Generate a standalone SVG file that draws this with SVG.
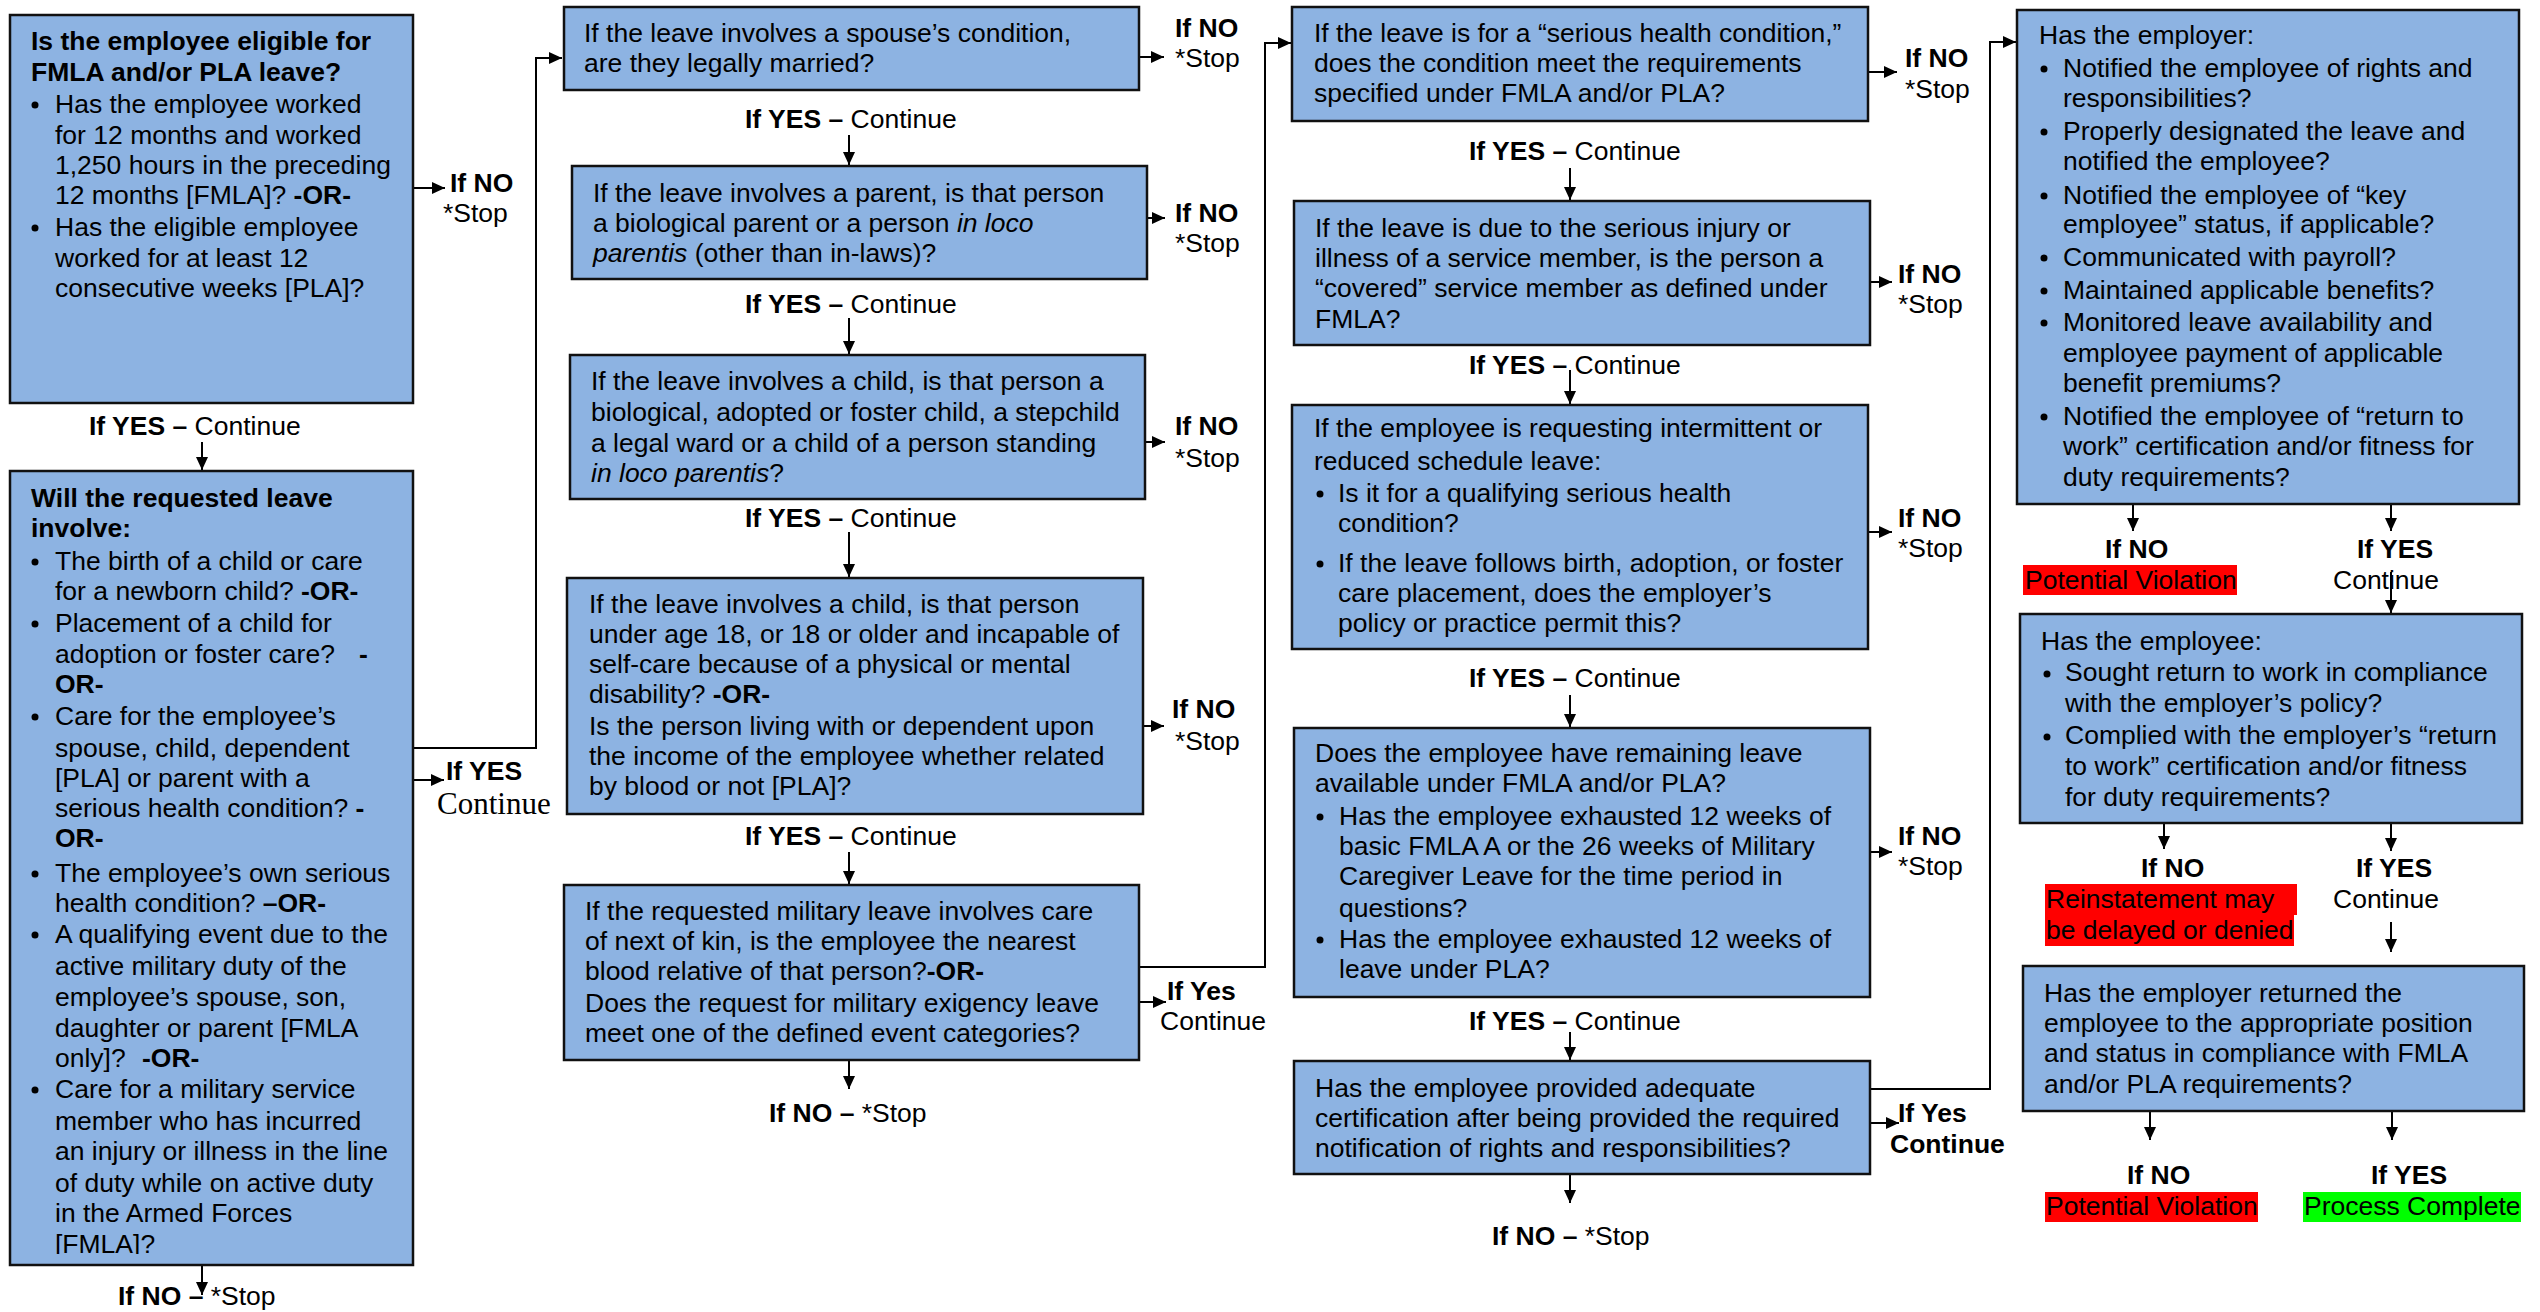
<svg xmlns="http://www.w3.org/2000/svg" width="2540" height="1312" viewBox="0 0 2540 1312">
<style>
.bg{fill:#ffffff}
.box{fill:#8DB3E2;stroke:#111111;stroke-width:2.5}
text{font-family:"Liberation Sans",Arial,sans-serif;font-size:26.5px;fill:#000000}
.b{font-weight:bold}
.i{font-style:italic}
.serif{font-family:"Liberation Serif","Times New Roman",serif;font-size:31px}
.conn{fill:none;stroke:#000000;stroke-width:2}
.dot{fill:#000000}
.red{fill:#FF0000}
.green{fill:#00FF00}
</style>
<defs>
<marker id="ah" markerWidth="13" markerHeight="12" refX="13" refY="6" orient="auto" markerUnits="userSpaceOnUse">
<path d="M0,0 L13,6 L0,12 z" fill="#000000"/>
</marker>
<clipPath id="clip2"><rect x="10" y="471" width="403" height="783"/></clipPath>
</defs>
<rect class="bg" x="0" y="0" width="2540" height="1312"/>

<g id="connectors">
<line class="conn" x1="414" y1="188" x2="445" y2="188" marker-end="url(#ah)"/>
<line class="conn" x1="202" y1="442" x2="202" y2="470" marker-end="url(#ah)"/>
<path class="conn" d="M413,748 H536 V58 H562" marker-end="url(#ah)"/>
<line class="conn" x1="414" y1="780" x2="444" y2="780" marker-end="url(#ah)"/>
<line class="conn" x1="202" y1="1265" x2="202" y2="1295" marker-end="url(#ah)"/>

<line class="conn" x1="1139" y1="57" x2="1164" y2="57" marker-end="url(#ah)"/>
<line class="conn" x1="849" y1="135" x2="849" y2="165" marker-end="url(#ah)"/>
<line class="conn" x1="1147" y1="218" x2="1165" y2="218" marker-end="url(#ah)"/>
<line class="conn" x1="849" y1="318" x2="849" y2="354" marker-end="url(#ah)"/>
<line class="conn" x1="1145" y1="442" x2="1165" y2="442" marker-end="url(#ah)"/>
<line class="conn" x1="849" y1="532" x2="849" y2="577" marker-end="url(#ah)"/>
<line class="conn" x1="1143" y1="726" x2="1164" y2="726" marker-end="url(#ah)"/>
<line class="conn" x1="849" y1="852" x2="849" y2="884" marker-end="url(#ah)"/>
<path class="conn" d="M1139,967 H1265 V43 H1291" marker-end="url(#ah)"/>
<line class="conn" x1="1139" y1="1002" x2="1166" y2="1002" marker-end="url(#ah)"/>
<line class="conn" x1="849" y1="1060" x2="849" y2="1089" marker-end="url(#ah)"/>

<line class="conn" x1="1868" y1="72" x2="1897" y2="72" marker-end="url(#ah)"/>
<line class="conn" x1="1570" y1="168" x2="1570" y2="200" marker-end="url(#ah)"/>
<line class="conn" x1="1870" y1="282" x2="1892" y2="282" marker-end="url(#ah)"/>
<line class="conn" x1="1570" y1="370" x2="1570" y2="404" marker-end="url(#ah)"/>
<line class="conn" x1="1868" y1="532" x2="1892" y2="532" marker-end="url(#ah)"/>
<line class="conn" x1="1570" y1="695" x2="1570" y2="727" marker-end="url(#ah)"/>
<line class="conn" x1="1870" y1="852" x2="1892" y2="852" marker-end="url(#ah)"/>
<line class="conn" x1="1570" y1="1032" x2="1570" y2="1060" marker-end="url(#ah)"/>
<path class="conn" d="M1870,1089 H1990 V42 H2016" marker-end="url(#ah)"/>
<line class="conn" x1="1870" y1="1123" x2="1899" y2="1123" marker-end="url(#ah)"/>
<line class="conn" x1="1570" y1="1174" x2="1570" y2="1203" marker-end="url(#ah)"/>

<line class="conn" x1="2133" y1="504" x2="2133" y2="531" marker-end="url(#ah)"/>
<line class="conn" x1="2391" y1="504" x2="2391" y2="531" marker-end="url(#ah)"/>
<line class="conn" x1="2391" y1="572" x2="2391" y2="613" marker-end="url(#ah)"/>
<line class="conn" x1="2164" y1="823" x2="2164" y2="849" marker-end="url(#ah)"/>
<line class="conn" x1="2391" y1="823" x2="2391" y2="851" marker-end="url(#ah)"/>
<line class="conn" x1="2391" y1="922" x2="2391" y2="952" marker-end="url(#ah)"/>
<line class="conn" x1="2150" y1="1111" x2="2150" y2="1140" marker-end="url(#ah)"/>
<line class="conn" x1="2392" y1="1111" x2="2392" y2="1140" marker-end="url(#ah)"/>
</g>

<g id="n1">
<rect class="box" x="10" y="15" width="403" height="388"/>
<text class="b" x="31" y="50">Is the employee eligible for</text>
<text class="b" x="31" y="81">FMLA and/or PLA leave?</text>
<circle class="dot" cx="35" cy="105" r="3.5"/>
<text x="55" y="113">Has the employee worked</text>
<text x="55" y="144">for 12 months and worked</text>
<text x="55" y="174">1,250 hours in the preceding</text>
<text x="55" y="204">12 months [FMLA]? <tspan class="b">-OR-</tspan></text>
<circle class="dot" cx="35" cy="228" r="3.5"/>
<text x="55" y="236">Has the eligible employee</text>
<text x="55" y="267">worked for at least 12</text>
<text x="55" y="297">consecutive weeks [PLA]?</text>
</g>

<g id="n2">
<rect class="box" x="10" y="471" width="403" height="794"/>
<g clip-path="url(#clip2)">
<text class="b" x="31" y="507">Will the requested leave</text>
<text class="b" x="31" y="537">involve:</text>
<circle class="dot" cx="35" cy="562" r="3.5"/>
<text x="55" y="570">The birth of a child or care</text>
<text x="55" y="600">for a newborn child? <tspan class="b">-OR-</tspan></text>
<circle class="dot" cx="35" cy="624" r="3.5"/>
<text x="55" y="632">Placement of a child for</text>
<text x="55" y="663">adoption or foster care?<tspan class="b" x="359">-</tspan></text>
<text class="b" x="55" y="693">OR-</text>
<circle class="dot" cx="35" cy="717" r="3.5"/>
<text x="55" y="725">Care for the employee’s</text>
<text x="55" y="757">spouse, child, dependent</text>
<text x="55" y="787">[PLA] or parent with a</text>
<text x="55" y="817">serious health condition? <tspan class="b">-</tspan></text>
<text class="b" x="55" y="847">OR-</text>
<circle class="dot" cx="35" cy="874" r="3.5"/>
<text x="55" y="882">The employee’s own serious</text>
<text x="55" y="912">health condition? <tspan class="b">–OR-</tspan></text>
<circle class="dot" cx="35" cy="935" r="3.5"/>
<text x="55" y="943">A qualifying event due to the</text>
<text x="55" y="975">active military duty of the</text>
<text x="55" y="1006">employee’s spouse, son,</text>
<text x="55" y="1037">daughter or parent [FMLA</text>
<text x="55" y="1067">only]?  <tspan class="b" x="142">-OR-</tspan></text>
<circle class="dot" cx="35" cy="1090" r="3.5"/>
<text x="55" y="1098">Care for a military service</text>
<text x="55" y="1130">member who has incurred</text>
<text x="55" y="1160">an injury or illness in the line</text>
<text x="55" y="1192">of duty while on active duty</text>
<text x="55" y="1222">in the Armed Forces</text>
<text x="55" y="1253">[FMLA]?</text>
</g>
</g>

<g id="n3">
<rect class="box" x="564" y="7" width="575" height="83"/>
<text x="584" y="42">If the leave involves a spouse’s condition,</text>
<text x="584" y="72">are they legally married?</text>
</g>

<g id="n4">
<rect class="box" x="572" y="166" width="575" height="113"/>
<text x="593" y="202">If the leave involves a parent, is that person</text>
<text x="593" y="232">a biological parent or a person <tspan class="i">in loco</tspan></text>
<text x="593" y="262"><tspan class="i">parentis</tspan> (other than in-laws)?</text>
</g>

<g id="n5">
<rect class="box" x="570" y="355" width="575" height="144"/>
<text x="591" y="390">If the leave involves a child, is that person a</text>
<text x="591" y="421">biological, adopted or foster child, a stepchild</text>
<text x="591" y="452">a legal ward or a child of a person standing</text>
<text x="591" y="482"><tspan class="i">in loco parentis</tspan>?</text>
</g>

<g id="n6">
<rect class="box" x="567" y="578" width="576" height="236"/>
<text x="589" y="613">If the leave involves a child, is that person</text>
<text x="589" y="643">under age 18, or 18 or older and incapable of</text>
<text x="589" y="673">self-care because of a physical or mental</text>
<text x="589" y="703">disability? <tspan class="b">-OR-</tspan></text>
<text x="589" y="735">Is the person living with or dependent upon</text>
<text x="589" y="765">the income of the employee whether related</text>
<text x="589" y="795">by blood or not [PLA]?</text>
</g>

<g id="n7">
<rect class="box" x="564" y="885" width="575" height="175"/>
<text x="585" y="920">If the requested military leave involves care</text>
<text x="585" y="950">of next of kin, is the employee the nearest</text>
<text x="585" y="980">blood relative of that person?<tspan class="b">-OR-</tspan></text>
<text x="585" y="1012">Does the request for military exigency leave</text>
<text x="585" y="1042">meet one of the defined event categories?</text>
</g>

<g id="n8">
<rect class="box" x="1292" y="7" width="576" height="114"/>
<text x="1314" y="42">If the leave is for a “serious health condition,”</text>
<text x="1314" y="72">does the condition meet the requirements</text>
<text x="1314" y="102">specified under FMLA and/or PLA?</text>
</g>

<g id="n9">
<rect class="box" x="1294" y="201" width="576" height="144"/>
<text x="1315" y="237">If the leave is due to the serious injury or</text>
<text x="1315" y="267">illness of a service member, is the person a</text>
<text x="1315" y="297">“covered” service member as defined under</text>
<text x="1315" y="328">FMLA?</text>
</g>

<g id="n10">
<rect class="box" x="1292" y="405" width="576" height="244"/>
<text x="1314" y="437">If the employee is requesting intermittent or</text>
<text x="1314" y="470">reduced schedule leave:</text>
<circle class="dot" cx="1320" cy="494" r="3.5"/>
<text x="1338" y="502">Is it for a qualifying serious health</text>
<text x="1338" y="532">condition?</text>
<circle class="dot" cx="1320" cy="564" r="3.5"/>
<text x="1338" y="572">If the leave follows birth, adoption, or foster</text>
<text x="1338" y="602">care placement, does the employer’s</text>
<text x="1338" y="632">policy or practice permit this?</text>
</g>

<g id="n11">
<rect class="box" x="1294" y="728" width="576" height="269"/>
<text x="1315" y="762">Does the employee have remaining leave</text>
<text x="1315" y="792">available under FMLA and/or PLA?</text>
<circle class="dot" cx="1320" cy="817" r="3.5"/>
<text x="1339" y="825">Has the employee exhausted 12 weeks of</text>
<text x="1339" y="855">basic FMLA A or the 26 weeks of Military</text>
<text x="1339" y="885">Caregiver Leave for the time period in</text>
<text x="1339" y="917">questions?</text>
<circle class="dot" cx="1320" cy="940" r="3.5"/>
<text x="1339" y="948">Has the employee exhausted 12 weeks of</text>
<text x="1339" y="978">leave under PLA?</text>
</g>

<g id="n12">
<rect class="box" x="1294" y="1061" width="576" height="113"/>
<text x="1315" y="1097">Has the employee provided adequate</text>
<text x="1315" y="1127">certification after being provided the required</text>
<text x="1315" y="1157">notification of rights and responsibilities?</text>
</g>

<g id="n13">
<rect class="box" x="2017" y="10" width="502" height="494"/>
<text x="2039" y="44">Has the employer:</text>
<circle class="dot" cx="2044" cy="69" r="3.5"/>
<text x="2063" y="77">Notified the employee of rights and</text>
<text x="2063" y="107">responsibilities?</text>
<circle class="dot" cx="2044" cy="132" r="3.5"/>
<text x="2063" y="140">Properly designated the leave and</text>
<text x="2063" y="170">notified the employee?</text>
<circle class="dot" cx="2044" cy="196" r="3.5"/>
<text x="2063" y="204">Notified the employee of “key</text>
<text x="2063" y="233">employee” status, if applicable?</text>
<circle class="dot" cx="2044" cy="258" r="3.5"/>
<text x="2063" y="266">Communicated with payroll?</text>
<circle class="dot" cx="2044" cy="291" r="3.5"/>
<text x="2063" y="299">Maintained applicable benefits?</text>
<circle class="dot" cx="2044" cy="323" r="3.5"/>
<text x="2063" y="331">Monitored leave availability and</text>
<text x="2063" y="362">employee payment of applicable</text>
<text x="2063" y="392">benefit premiums?</text>
<circle class="dot" cx="2044" cy="417" r="3.5"/>
<text x="2063" y="425">Notified the employee of “return to</text>
<text x="2063" y="455">work” certification and/or fitness for</text>
<text x="2063" y="486">duty requirements?</text>
</g>

<g id="n14">
<rect class="box" x="2020" y="614" width="502" height="209"/>
<text x="2041" y="650">Has the employee:</text>
<circle class="dot" cx="2047" cy="674" r="3.5"/>
<text x="2065" y="681">Sought return to work in compliance</text>
<text x="2065" y="712">with the employer’s policy?</text>
<circle class="dot" cx="2047" cy="737" r="3.5"/>
<text x="2065" y="744">Complied with the employer’s “return</text>
<text x="2065" y="775">to work” certification and/or fitness</text>
<text x="2065" y="806">for duty requirements?</text>
</g>

<g id="n15">
<rect class="box" x="2023" y="966" width="501" height="145"/>
<text x="2044" y="1002">Has the employer returned the</text>
<text x="2044" y="1032">employee to the appropriate position</text>
<text x="2044" y="1062">and status in compliance with FMLA</text>
<text x="2044" y="1093">and/or PLA requirements?</text>
</g>

<g id="labels">
<text class="b" x="450" y="192">If NO</text>
<text x="443" y="222">*Stop</text>
<text x="89" y="435"><tspan class="b">If YES –</tspan> Continue</text>
<text class="b" x="446" y="780">If YES</text>
<text class="serif" x="437" y="814">Continue</text>
<text x="118" y="1305"><tspan class="b">If NO –</tspan> *Stop</text>

<text class="b" x="1175" y="37">If NO</text>
<text x="1175" y="67">*Stop</text>
<text x="745" y="128"><tspan class="b">If YES –</tspan> Continue</text>
<text class="b" x="1175" y="222">If NO</text>
<text x="1175" y="252">*Stop</text>
<text x="745" y="313"><tspan class="b">If YES –</tspan> Continue</text>
<text class="b" x="1175" y="435">If NO</text>
<text x="1175" y="467">*Stop</text>
<text x="745" y="527"><tspan class="b">If YES –</tspan> Continue</text>
<text class="b" x="1172" y="718">If NO</text>
<text x="1175" y="750">*Stop</text>
<text x="745" y="845"><tspan class="b">If YES –</tspan> Continue</text>
<text class="b" x="1167" y="1000">If Yes</text>
<text x="1160" y="1030">Continue</text>
<text x="769" y="1122"><tspan class="b">If NO –</tspan> *Stop</text>

<text class="b" x="1905" y="67">If NO</text>
<text x="1905" y="98">*Stop</text>
<text x="1469" y="160"><tspan class="b">If YES –</tspan> Continue</text>
<text class="b" x="1898" y="283">If NO</text>
<text x="1898" y="313">*Stop</text>
<text x="1469" y="374"><tspan class="b">If YES –</tspan> Continue</text>
<text class="b" x="1898" y="527">If NO</text>
<text x="1898" y="557">*Stop</text>
<text x="1469" y="687"><tspan class="b">If YES –</tspan> Continue</text>
<text class="b" x="1898" y="845">If NO</text>
<text x="1898" y="875">*Stop</text>
<text x="1469" y="1030"><tspan class="b">If YES –</tspan> Continue</text>
<text class="b" x="1898" y="1122">If Yes</text>
<text class="b" x="1890" y="1153">Continue</text>
<text x="1492" y="1245"><tspan class="b">If NO –</tspan> *Stop</text>

<text class="b" x="2105" y="558">If NO</text>
<rect class="red" x="2023" y="565" width="214" height="30"/>
<text x="2025" y="589">Potential Violation</text>
<text class="b" x="2357" y="558">If YES</text>
<text x="2333" y="589">Continue</text>

<text class="b" x="2141" y="877">If NO</text>
<rect class="red" x="2045" y="884" width="252" height="31"/>
<rect class="red" x="2045" y="914" width="249" height="32"/>
<text x="2046" y="908">Reinstatement may</text>
<text x="2046" y="939">be delayed or denied</text>
<text class="b" x="2356" y="877">If YES</text>
<text x="2333" y="908">Continue</text>

<text class="b" x="2127" y="1184">If NO</text>
<rect class="red" x="2045" y="1192" width="213" height="30"/>
<text x="2046" y="1215">Potential Violation</text>
<text class="b" x="2371" y="1184">If YES</text>
<rect class="green" x="2303" y="1192" width="218" height="30"/>
<text x="2304" y="1215">Process Complete</text>
</g>
</svg>
